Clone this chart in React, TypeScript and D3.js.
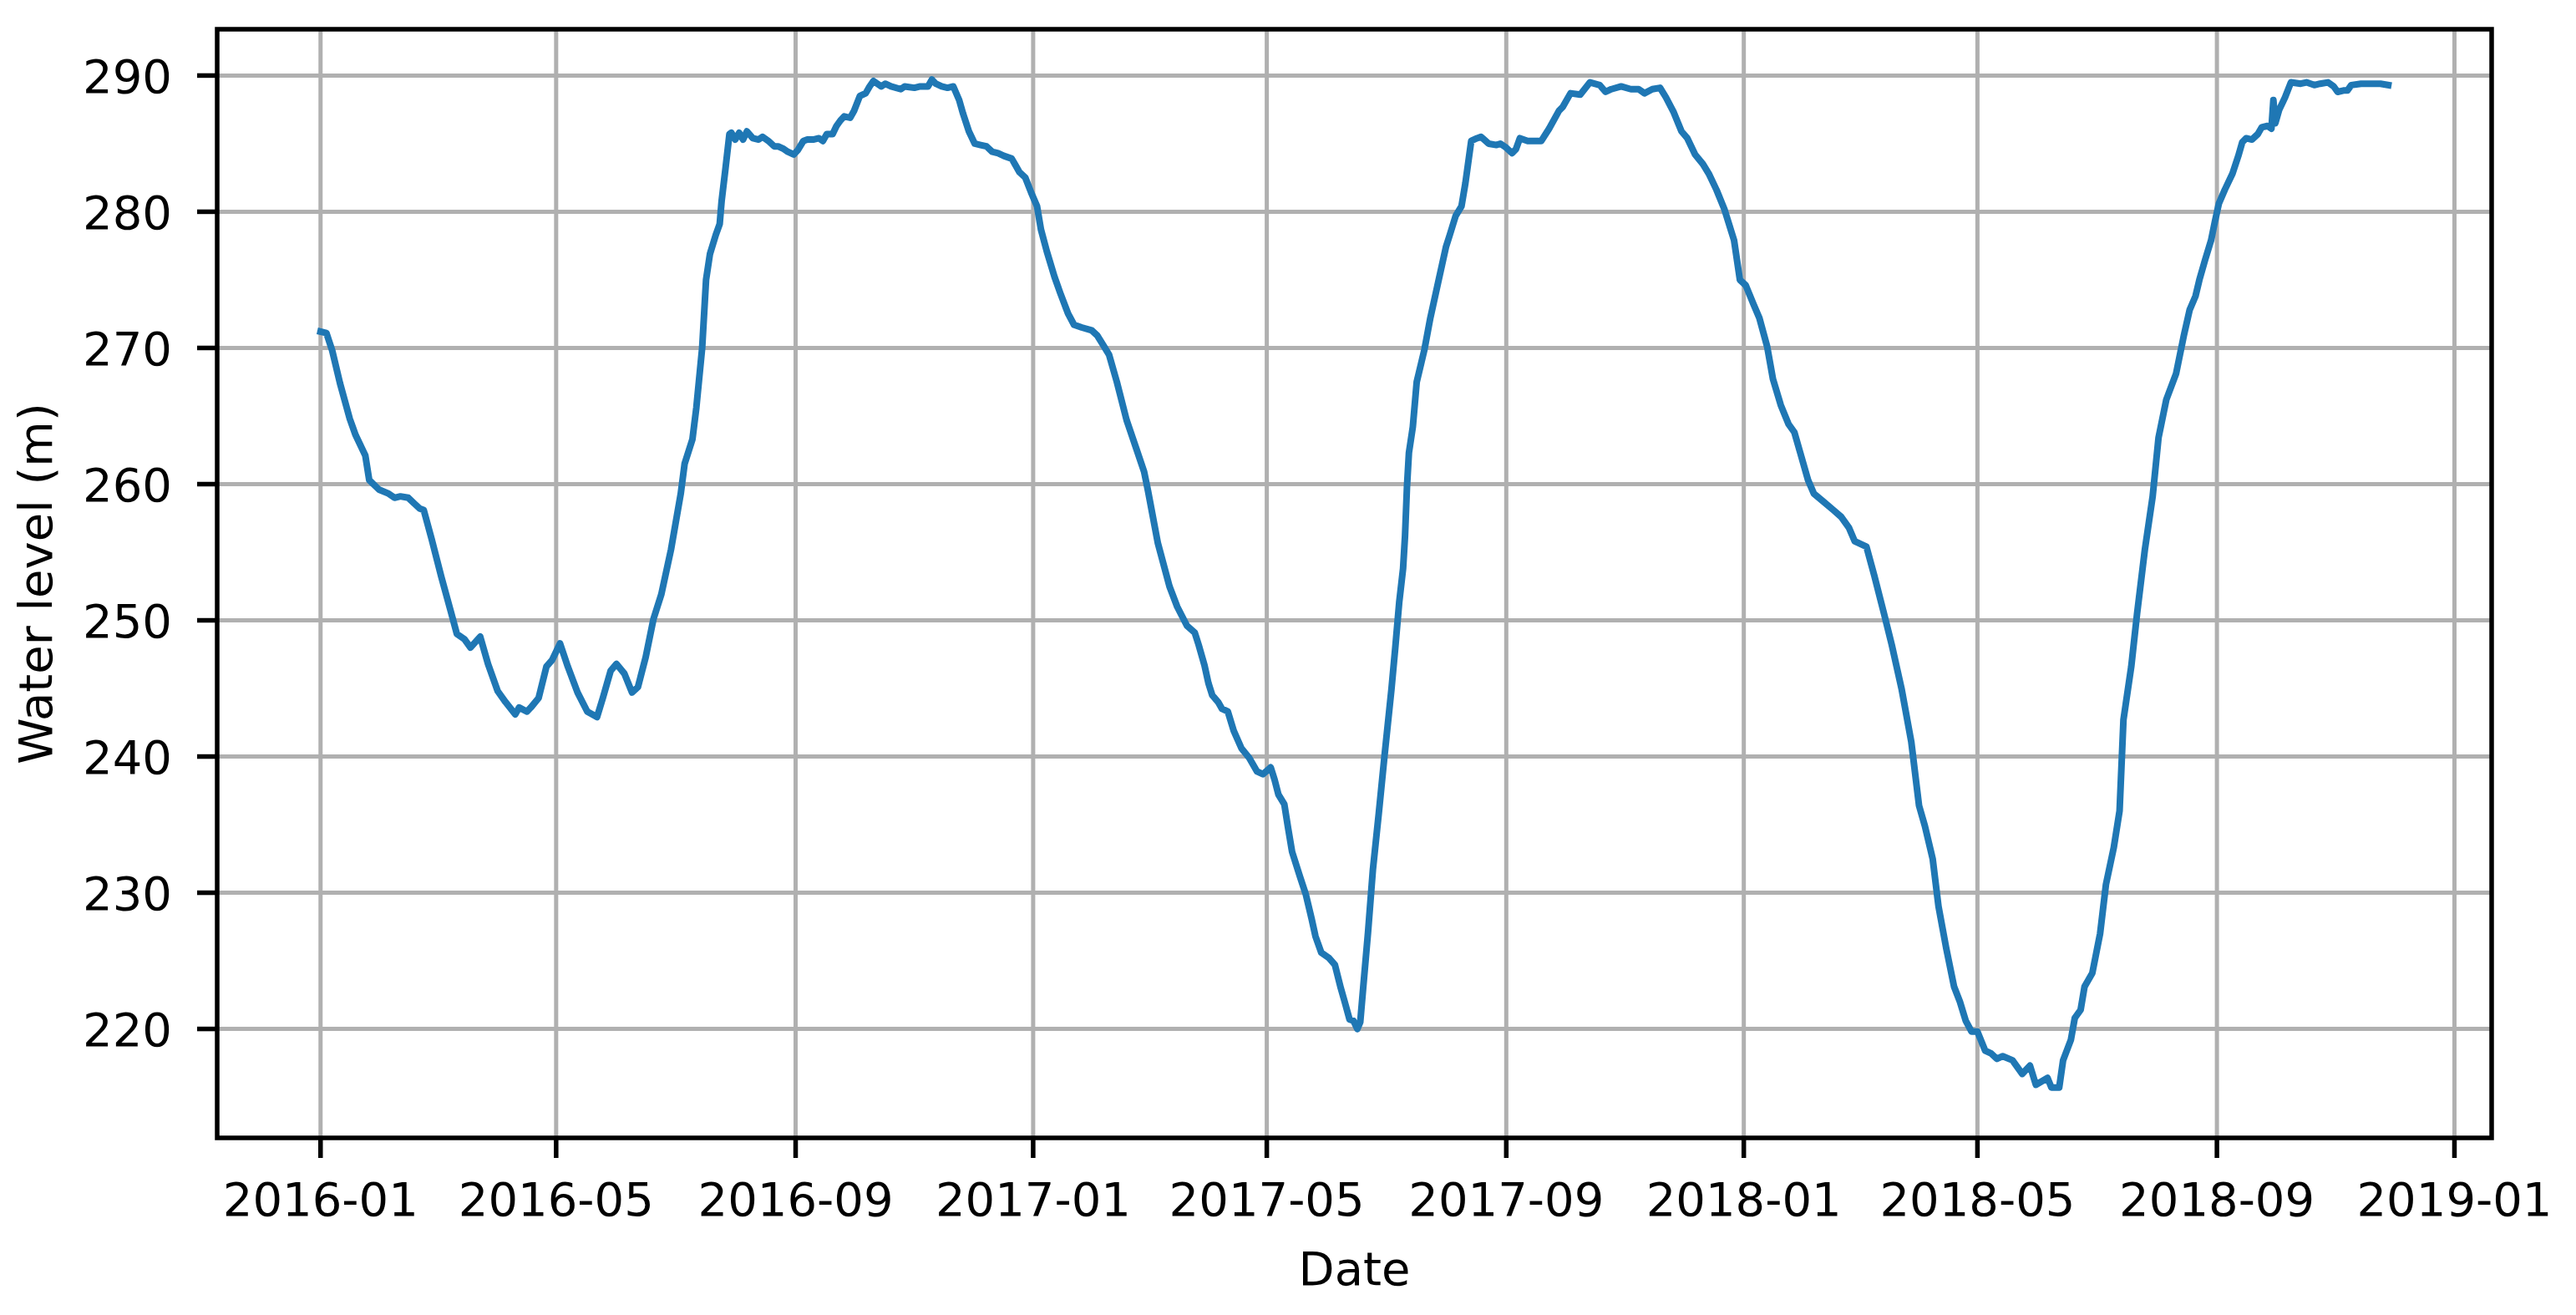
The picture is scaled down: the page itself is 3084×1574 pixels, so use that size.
import React, { useEffect, useRef } from "react";
import * as d3 from "d3";

// series start, then days since start and measured water level (m)
const startDate = "2016-01-01";
const daysSinceStart = [
  0, 3, 6, 10, 15, 18, 23, 25, 30, 35, 38, 41, 45, 48, 51, 53, 57, 62, 67, 70,
  74, 77, 82, 86, 91, 95, 100, 102, 106, 108, 112, 116, 119, 123, 127, 132, 137, 142, 145, 149,
  152, 156, 160, 163, 167, 171, 175, 180, 185, 187, 191, 193, 196, 198, 200, 203, 205, 206, 208, 210,
  211, 213, 215, 217, 219, 222, 225, 227, 230, 233, 235, 238, 240, 243, 245, 248, 250, 253, 256, 258,
  260, 263, 265, 267, 269, 272, 274, 277, 280, 282, 284, 288, 290, 293, 298, 300, 305, 308, 312, 314,
  316, 319, 322, 325, 328, 330, 333, 336, 339, 342, 345, 348, 351, 355, 357, 359, 362, 365, 368, 370,
  373, 377, 380, 384, 387, 391, 396, 399, 402, 405, 409, 414, 419, 423, 425, 430, 436, 440, 445, 449,
  451, 454, 456, 458, 461, 463, 466, 469, 473, 477, 481, 484, 488, 490, 492, 495, 497, 499, 503, 506,
  509, 511, 514, 518, 521, 524, 526, 528.5, 530.5, 532.5, 534, 535.5, 538, 540.5, 543.5, 546.5, 550, 552, 554, 556,
  557, 558, 559, 561, 563, 567, 570, 574, 578, 580, 583, 586, 588, 591, 594, 596, 600, 604, 606, 609,
  612, 614, 616, 620, 627, 631, 636, 638, 642, 647, 652, 657, 660, 663, 668, 673, 677, 680, 684, 688,
  691, 695, 699, 702, 706, 710, 713, 717, 721, 726, 729, 732, 736, 739, 743, 746, 750, 754, 757, 760,
  764, 767, 772, 777, 781, 785, 788, 794, 798, 803, 807, 812, 817, 821, 824, 828, 831, 835, 839, 842,
  845, 848, 851, 855, 858, 861, 864, 869, 871, 874, 878, 881, 887, 889, 893, 895, 899, 901, 904, 906,
  910, 914, 917, 921, 924, 926, 930, 933, 937, 941, 944, 948, 953, 957, 960, 963, 965, 968, 971, 973,
  975, 978, 982, 985, 987, 989, 992, 995, 997, 1000, 1002, 1003, 1004, 1006, 1009, 1012, 1017, 1020, 1024, 1027,
  1031, 1034, 1036, 1039, 1041, 1043, 1048, 1052, 1058, 1062,
];
const waterLevel = [
  271.2, 271.1, 269.8, 267.4, 264.8, 263.6, 262.1, 260.3, 259.6, 259.3, 259.0, 259.1, 259.0, 258.6, 258.2, 258.1, 256.0, 253.2, 250.6, 249.0,
  248.6, 248.0, 248.8, 246.8, 244.8, 244.0, 243.1, 243.6, 243.3, 243.6, 244.3, 246.6, 247.1, 248.3, 246.6, 244.7, 243.3, 242.9, 244.3, 246.3,
  246.8, 246.1, 244.7, 245.1, 247.3, 250.1, 251.9, 255.2, 259.3, 261.5, 263.3, 265.6, 270.0, 275.0, 276.9, 278.3, 279.1, 280.8, 283.2, 285.7,
  285.8, 285.3, 285.8, 285.3, 285.9, 285.4, 285.3, 285.5, 285.2, 284.8, 284.8, 284.6, 284.4, 284.2, 284.5, 285.2, 285.3, 285.3, 285.4, 285.2,
  285.7, 285.7, 286.3, 286.7, 287.0, 286.9, 287.4, 288.5, 288.7, 289.2, 289.6, 289.2, 289.4, 289.2, 289.0, 289.2, 289.1, 289.2, 289.2, 289.7,
  289.4, 289.2, 289.1, 289.2, 288.2, 287.2, 285.9, 285.0, 284.9, 284.8, 284.4, 284.3, 284.1, 283.9, 283.4, 282.9, 282.5, 281.4, 280.4, 278.7,
  277.1, 275.2, 274.0, 272.5, 271.7, 271.5, 271.3, 270.9, 270.2, 269.5, 267.5, 264.7, 262.6, 260.9, 259.5, 255.7, 252.5, 251.0, 249.6, 249.1,
  248.2, 246.7, 245.4, 244.5, 244.0, 243.5, 243.3, 241.9, 240.6, 239.9, 238.9, 238.7, 239.2, 238.3, 237.2, 236.5, 234.7, 233.0, 231.2, 229.9,
  228.1, 226.8, 225.6, 225.2, 224.7, 223.0, 222.0, 220.7, 220.6, 220.0, 220.5, 223.0, 227.1, 231.7, 235.8, 240.1, 244.9, 248.0, 251.3, 253.8,
  256.2, 259.8, 262.3, 264.2, 267.5, 269.9, 272.2, 274.8, 277.4, 278.3, 279.7, 280.4, 282.1, 285.2, 285.4, 285.5, 285.0, 284.9, 285.0, 284.7,
  284.3, 284.6, 285.4, 285.2, 285.2, 286.1, 287.4, 287.7, 288.7, 288.6, 289.5, 289.3, 288.8, 289.0, 289.2, 289.0, 289.0, 288.7, 289.0, 289.1,
  288.4, 287.3, 285.9, 285.4, 284.2, 283.5, 282.8, 281.6, 280.2, 277.9, 275.0, 274.6, 273.2, 272.2, 270.1, 267.7, 265.8, 264.4, 263.8, 262.3,
  260.3, 259.3, 258.7, 258.1, 257.6, 256.8, 255.8, 255.4, 253.3, 250.5, 248.2, 245.0, 241.1, 236.4, 234.9, 232.5, 229.0, 225.9, 223.1, 222.0,
  220.6, 219.8, 219.8, 218.4, 218.2, 217.8, 218.0, 217.7, 217.3, 216.7, 217.3, 215.9, 216.4, 215.7, 215.7, 217.7, 219.2, 220.8, 221.4, 223.1,
  224.1, 227.0, 230.6, 233.3, 236.0, 242.7, 246.6, 250.5, 255.2, 259.1, 263.4, 266.2, 268.1, 270.9, 272.8, 273.8, 275.0, 276.5, 277.9, 279.3,
  280.6, 281.6, 282.8, 284.1, 285.1, 285.4, 285.3, 285.7, 286.2, 286.3, 286.1, 288.2, 286.5, 287.5, 288.4, 289.5, 289.4, 289.5, 289.3, 289.4,
  289.5, 289.2, 288.8, 288.9, 288.9, 289.3, 289.4, 289.4, 289.4, 289.3,
];
const yTicks = [220, 230, 240, 250, 260, 270, 280, 290];
const xTickDates = [
  "2016-01-01", "2016-05-01", "2016-09-01", "2017-01-01", "2017-05-01",
  "2017-09-01", "2018-01-01", "2018-05-01", "2018-09-01", "2019-01-01",
];

const DAY = 24 * 60 * 60 * 1000;

const App = () => {
  const ref = useRef<SVGSVGElement>(null);

  useEffect(() => {
    const W = 3084,
      H = 1574;
    const plot = { left: 260, right: 2983, top: 35, bottom: 1362 };
    const font = "'DejaVu Sans', sans-serif";
    const fs = 56;

    const t0 = new Date(startDate + "T00:00:00Z").getTime();
    const data = daysSinceStart.map((d, i) => ({
      date: new Date(t0 + d * DAY),
      value: waterLevel[i],
    }));

    const svg = d3.select(ref.current);
    svg.selectAll("*").remove();
    svg.attr("width", W).attr("height", H);

    svg.append("rect").attr("width", W).attr("height", H).attr("fill", "#fff");

    // matplotlib-like 5% margins around the data
    const [xMin, xMax] = d3.extent(data, (d) => d.date.getTime()) as [number, number];
    const xPad = (xMax - xMin) * 0.05;
    const xScale = d3
      .scaleUtc()
      .domain([new Date(xMin - xPad), new Date(xMax + xPad)])
      .range([plot.left, plot.right]);

    const [yMin, yMax] = d3.extent(waterLevel) as [number, number];
    const yPad = (yMax - yMin) * 0.05;
    const yScale = d3
      .scaleLinear()
      .domain([yMin - yPad, yMax + yPad])
      .range([plot.bottom, plot.top]);

    const xTicks = xTickDates.map((s) => new Date(s + "T00:00:00Z"));
    const fmt = d3.utcFormat("%Y-%m");

    // grid
    const grid = svg.append("g").attr("stroke", "#b0b0b0").attr("stroke-width", 5);
    grid
      .selectAll(".vgrid")
      .data(xTicks)
      .enter()
      .append("line")
      .attr("x1", (d) => xScale(d))
      .attr("x2", (d) => xScale(d))
      .attr("y1", plot.top)
      .attr("y2", plot.bottom);
    grid
      .selectAll(".hgrid")
      .data(yTicks)
      .enter()
      .append("line")
      .attr("x1", plot.left)
      .attr("x2", plot.right)
      .attr("y1", (d) => yScale(d))
      .attr("y2", (d) => yScale(d));

    // the series
    const line = d3
      .line<{ date: Date; value: number }>()
      .x((d) => xScale(d.date))
      .y((d) => yScale(d.value));

    svg
      .append("path")
      .datum(data)
      .attr("d", line)
      .attr("fill", "none")
      .attr("stroke", "#1f77b4")
      .attr("stroke-width", 8)
      .attr("stroke-linejoin", "round")
      .attr("stroke-linecap", "square");

    // frame
    svg
      .append("rect")
      .attr("x", plot.left)
      .attr("y", plot.top)
      .attr("width", plot.right - plot.left)
      .attr("height", plot.bottom - plot.top)
      .attr("fill", "none")
      .attr("stroke", "#000")
      .attr("stroke-width", 5.5);

    // x ticks + labels
    const xt = svg
      .append("g")
      .selectAll("g")
      .data(xTicks)
      .enter()
      .append("g")
      .attr("transform", (d) => `translate(${xScale(d)},0)`);
    xt.append("line")
      .attr("y1", plot.bottom)
      .attr("y2", plot.bottom + 24)
      .attr("stroke", "#000")
      .attr("stroke-width", 5.5);
    xt.append("text")
      .attr("y", 1455)
      .attr("text-anchor", "middle")
      .style("font-family", font)
      .style("font-size", `${fs}px`)
      .attr("fill", "#000")
      .text((d) => fmt(d));

    // y ticks + labels
    const yt = svg
      .append("g")
      .selectAll("g")
      .data(yTicks)
      .enter()
      .append("g")
      .attr("transform", (d) => `translate(0,${yScale(d)})`);
    yt.append("line")
      .attr("x1", plot.left - 24)
      .attr("x2", plot.left)
      .attr("stroke", "#000")
      .attr("stroke-width", 5.5);
    yt.append("text")
      .attr("x", plot.left - 54)
      .attr("y", fs * 0.364)
      .attr("text-anchor", "end")
      .style("font-family", font)
      .style("font-size", `${fs}px`)
      .attr("fill", "#000")
      .text((d) => String(d));

    // axis labels
    svg
      .append("text")
      .attr("x", (plot.left + plot.right) / 2)
      .attr("y", 1538)
      .attr("text-anchor", "middle")
      .style("font-family", font)
      .style("font-size", `${fs}px`)
      .text("Date");

    svg
      .append("text")
      .attr("transform", `translate(62,${(plot.top + plot.bottom) / 2}) rotate(-90)`)
      .attr("text-anchor", "middle")
      .style("font-family", font)
      .style("font-size", `${fs}px`)
      .text("Water level (m)");
  }, []);

  return (
    <div style={{ position: "absolute", left: 0, top: 0 }}>
      <svg ref={ref} style={{ display: "block" }}></svg>
    </div>
  );
};

export default App;
